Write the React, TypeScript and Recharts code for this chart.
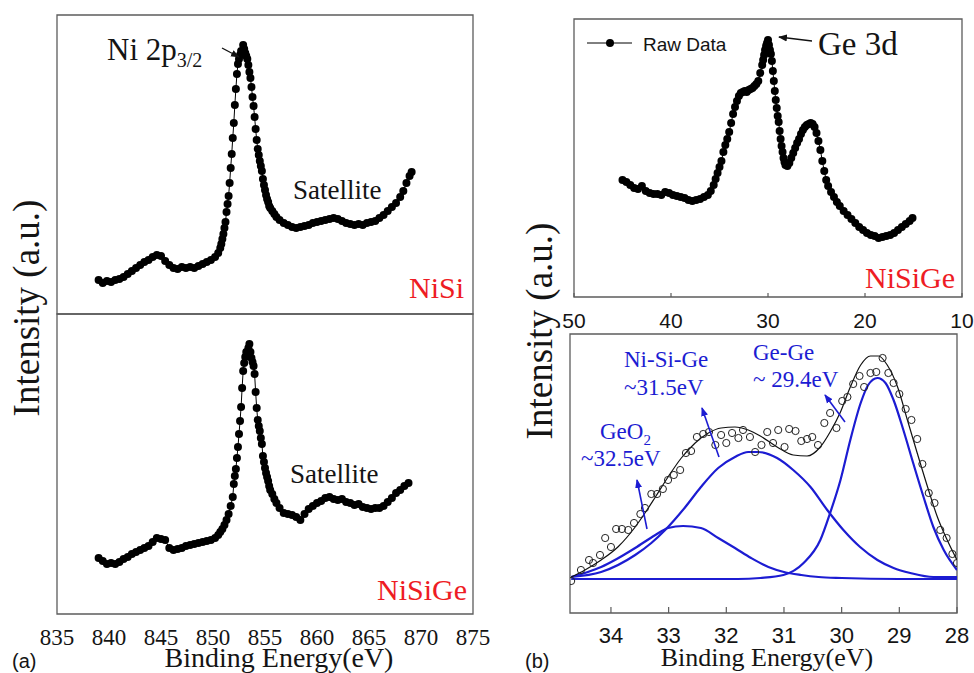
import React from 'react';
import { LineChart, ComposedChart, Line, XAxis, YAxis, ReferenceArea } from 'recharts';

const SERIF = '"Liberation Serif", "Times New Roman", serif';
const SANS = '"Liberation Sans", Arial, sans-serif';
const FRAME = '#5c5c5c';
const RED = '#ee1c24';
const BLUE = '#1c1cd2';
const INK = '#141414';

// (a) Ni 2p3/2 region
const niTicks = [835, 840, 845, 850, 855, 860, 865, 870, 875];

const niSiEnergy = [
  839.0, 839.4, 839.8, 840.2, 840.6, 841.0, 841.4, 841.8, 842.2, 842.6, 843.0, 843.4, 843.8, 844.2, 844.6,
  845.0, 845.4, 845.8, 846.2, 846.6, 847.0, 847.4, 847.8, 848.2, 848.6, 849.0, 849.4, 849.8, 850.2, 850.5,
  850.7, 850.8, 850.9, 851.0, 851.1, 851.2, 851.3, 851.4, 851.5, 851.6, 851.7, 851.8, 851.9, 852.0, 852.1,
  852.2, 852.3, 852.4, 852.5, 852.6, 852.7, 852.8, 852.9, 853.0, 853.1, 853.2, 853.3, 853.4, 853.5, 853.6,
  853.7, 853.8, 853.9, 854.0, 854.1, 854.2, 854.3, 854.4, 854.5, 854.6, 854.7, 854.8, 854.9, 855.0, 855.1,
  855.2, 855.3, 855.4, 855.5, 855.7, 855.9, 856.1, 856.4, 856.8, 857.2, 857.6, 858.0, 858.4, 858.8, 859.2,
  859.6, 860.0, 860.4, 860.8, 861.2, 861.6, 862.0, 862.4, 862.8, 863.2, 863.6, 864.0, 864.4, 864.8, 865.2,
  865.6, 866.0, 866.4, 866.8, 867.2, 867.6, 868.0, 868.3, 868.6, 868.9, 869.1,
];
const niSiCounts = [
  34, 31, 33, 32, 34, 35, 37, 40, 43, 46, 49, 52, 54, 57, 59,
  58, 53, 49, 46, 45, 47, 46, 47, 46, 48, 50, 52, 54, 57, 61,
  66, 70, 75, 80, 86, 92, 102, 110, 118, 131, 146, 160, 176, 191, 209,
  225, 240, 250, 255, 259, 263, 262, 269, 265, 261, 258, 255, 249, 242, 236,
  227, 217, 208, 197, 185, 174, 165, 159, 153, 148, 143, 135, 129, 124, 119,
  115, 112, 108, 106, 103, 100, 97, 94, 91, 89, 87, 86, 87, 88, 89,
  91, 92, 93, 94, 95, 96, 95, 93, 91, 90, 89, 90, 89, 91, 92,
  93, 96, 99, 103, 107, 111, 117, 123, 131, 138, 142,
];

const niSiGeEnergy = [
  839.0, 839.4, 839.8, 840.2, 840.6, 841.0, 841.4, 841.8, 842.2, 842.6, 843.0, 843.4, 843.8, 844.2, 844.6,
  845.0, 845.4, 845.8, 846.2, 846.6, 847.0, 847.4, 847.8, 848.2, 848.6, 849.0, 849.4, 849.8, 850.2, 850.5,
  850.7, 850.9, 851.1, 851.3, 851.5, 851.7, 851.9, 852.0, 852.1, 852.2, 852.3, 852.4, 852.5, 852.6, 852.7,
  852.8, 852.9, 853.0, 853.1, 853.2, 853.3, 853.4, 853.5, 853.6, 853.7, 853.8, 853.9, 854.0, 854.1, 854.2,
  854.3, 854.4, 854.5, 854.6, 854.7, 854.8, 854.9, 855.0, 855.1, 855.2, 855.3, 855.4, 855.5, 855.7, 855.9,
  856.1, 856.4, 856.8, 857.2, 857.6, 858.0, 858.4, 858.8, 859.2, 859.6, 860.0, 860.4, 860.8, 861.2, 861.6,
  862.0, 862.4, 862.8, 863.2, 863.6, 864.0, 864.4, 864.8, 865.2, 865.6, 866.0, 866.4, 866.8, 867.2, 867.6,
  868.0, 868.4, 868.8,
];
const niSiGeCounts = [
  56, 53, 50, 51, 50, 52, 55, 57, 60, 62, 64, 66, 68, 72, 76,
  75, 74, 66, 64, 65, 66, 68, 69, 70, 71, 72, 73, 74, 76, 79,
  82, 85, 89, 94, 100, 108, 117, 130, 138, 145, 156, 167, 180, 193, 207,
  226, 243, 251, 257, 262, 258, 266, 270, 262, 256, 252, 248, 240, 222, 206,
  194, 188, 183, 176, 170, 158, 152, 146, 141, 137, 133, 128, 124, 120, 115,
  111, 106, 101, 100, 99, 97, 94, 100, 105, 108, 111, 113, 116, 117, 115,
  114, 115, 112, 111, 109, 110, 107, 106, 105, 106, 106, 108, 112, 116, 121,
  124, 128, 131,
];

// (b) Ge 3d survey
const geTicks = [10, 20, 30, 40, 50];

const geRawEnergy = [
  45.0, 44.6, 44.2, 43.8, 43.4, 43.0, 42.6, 42.2, 41.8, 41.4, 41.0, 40.6, 40.2, 39.8, 39.4,
  39.0, 38.6, 38.2, 37.8, 37.4, 37.0, 36.6, 36.2, 35.9, 35.6, 35.4, 35.2, 35.0, 34.8, 34.6,
  34.4, 34.2, 34.0, 33.8, 33.6, 33.4, 33.2, 33.0, 32.8, 32.6, 32.4, 32.2, 32.0, 31.8, 31.6,
  31.4, 31.2, 31.0, 30.8, 30.6, 30.5, 30.4, 30.3, 30.2, 30.1, 30.0, 29.9, 29.8, 29.7, 29.6,
  29.5, 29.4, 29.3, 29.2, 29.1, 29.0, 28.9, 28.8, 28.7, 28.6, 28.5, 28.4, 28.3, 28.2, 28.0,
  27.8, 27.6, 27.4, 27.2, 27.0, 26.8, 26.6, 26.4, 26.2, 26.0, 25.8, 25.6, 25.4, 25.2, 25.0,
  24.8, 24.6, 24.4, 24.2, 24.0, 23.8, 23.5, 23.2, 22.9, 22.6, 22.2, 21.8, 21.4, 21.0, 20.6,
  20.2, 19.8, 19.4, 19.0, 18.6, 18.2, 17.8, 17.4, 17.0, 16.6, 16.2, 15.8, 15.4, 15.1,
];
const geRawCounts = [
  117, 115, 112, 109, 108, 111, 106, 104, 103, 103, 102, 105, 104, 102, 101,
  100, 99, 97, 96, 97, 98, 100, 102, 106, 112, 118, 124, 130, 136, 145,
  152, 158, 165, 174, 183, 190, 196, 201, 204, 205, 206, 205, 207, 208, 209,
  211, 213, 216, 224, 232, 237, 242, 247, 251, 254, 257, 252, 247, 243, 236,
  226, 216, 206, 197, 189, 181, 175, 166, 158, 151, 145, 139, 135, 132, 131,
  134, 139, 144, 149, 154, 158, 163, 167, 170, 172, 173, 174, 173, 170, 164,
  156, 147, 136, 126, 117, 111, 105, 100, 95, 91, 86, 82, 78, 74, 70,
  67, 64, 62, 61, 59, 60, 61, 62, 64, 67, 70, 73, 76, 79,
];

// (b) Ge 3d peak fit
const fitTicks = [28, 29, 30, 31, 32, 33, 34];

const fitRawEnergy = [
  34.69, 34.52, 34.38, 34.31, 34.19, 34.10, 34.00, 33.91, 33.81, 33.70, 33.60, 33.49, 33.41, 33.30, 33.20,
  33.10, 33.01, 32.91, 32.80, 32.70, 32.61, 32.51, 32.40, 32.30, 32.19, 32.09, 32.00, 31.90, 31.79, 31.71,
  31.59, 31.50, 31.39, 31.29, 31.19, 31.10, 30.99, 30.91, 30.80, 30.70, 30.60, 30.51, 30.41, 30.30, 30.20,
  30.09, 29.99, 29.90, 29.80, 29.69, 29.61, 29.50, 29.40, 29.29, 29.19, 29.10, 29.00, 28.89, 28.79, 28.69,
  28.60, 28.49, 28.39, 28.29, 28.18, 28.08, 28.00,
];
const fitRawCounts = [
  32, 43, 53, 50, 58, 75, 66, 84, 84, 83, 90, 99, 105, 119, 119,
  124, 133, 138, 143, 160, 162, 176, 179, 181, 168, 178, 170, 180, 175, 183,
  176, 161, 168, 181, 170, 183, 166, 184, 182, 172, 174, 176, 168, 190, 200,
  185, 212, 216, 229, 237, 226, 240, 241, 255, 240, 230, 219, 204, 193, 174,
  149, 120, 110, 83, 75, 59, 50,
];

const fitSumEnergy = [
  34.69, 34.45, 34.17, 33.88, 33.58, 33.41, 33.23, 33.01, 32.78, 32.54, 32.31, 32.09, 31.85, 31.62, 31.41,
  31.12, 30.84, 30.60, 30.37, 30.20, 30.02, 29.85, 29.67, 29.50, 29.36, 29.21, 29.03, 28.86, 28.69, 28.51,
  28.34, 28.17, 28.00,
];
const fitSumCounts = [
  36, 43, 53, 66, 86, 100, 116, 136, 155, 170, 180, 185, 186, 183, 177,
  166, 158, 157, 166, 181, 201, 226, 248, 257, 257, 248, 226, 193, 160, 126,
  96, 73, 53,
];

const geO2Energy = [
  34.69, 34.4, 34.17, 33.9, 33.58, 33.23, 33.01, 32.75, 32.44, 32.14, 31.85, 31.57, 31.27, 31.0, 30.7,
  30.4, 30.0, 29.0, 28.0,
];
const geO2Counts = [36, 41, 46, 54, 65, 78, 85, 87, 85, 75, 65, 55, 46, 41, 38, 36, 35, 34, 34];

const niSiGeFitEnergy = [
  34.69, 34.17, 33.58, 33.30, 33.06, 32.71, 32.44, 32.14, 31.85, 31.62, 31.45, 31.12, 30.84, 30.54, 30.25,
  29.97, 29.68, 29.38, 29.10, 28.81, 28.41, 28.00,
];
const niSiGeFitCounts = [
  36, 41, 58, 70, 83, 106, 126, 145, 156, 161, 161, 155, 143, 126, 103,
  83, 66, 53, 45, 40, 36, 36,
];

const geGeEnergy = [
  34.69, 31.8, 31.41, 31.01, 30.66, 30.37, 30.20, 30.02, 29.85, 29.67, 29.54, 29.38, 29.24, 29.10, 28.93,
  28.76, 28.58, 28.41, 28.23, 28.00,
];
const geGeCounts = [
  34, 34, 35, 38, 50, 73, 100, 133, 173, 210, 228, 235, 230, 213, 183,
  150, 116, 86, 63, 43,
];

const zip = (xs: number[], ys: number[]) => xs.map((x, i) => ({ x, y: ys[i] }));

const niSiData = zip(niSiEnergy, niSiCounts);
const niSiGeData = zip(niSiGeEnergy, niSiGeCounts);
const geRawData = zip(geRawEnergy, geRawCounts);
const fitRawData = zip(fitRawEnergy, fitRawCounts);
const fitSumData = zip(fitSumEnergy, fitSumCounts);
const geO2Data = zip(geO2Energy, geO2Counts);
const niSiGeFitData = zip(niSiGeFitEnergy, niSiGeFitCounts);
const geGeData = zip(geGeEnergy, geGeCounts);

const filledDot = { r: 4, fill: '#000', stroke: 'none' };
const openDot = { r: 3.6, fill: 'none', stroke: '#222', strokeWidth: 1 };

const abs = (left: number, top: number): React.CSSProperties => ({ position: 'absolute', left, top });

export default function App() {
  return (
    <div style={{ position: 'absolute', left: 0, top: 0, width: 974, height: 673, background: '#fff', overflow: 'hidden' }}>
      {/* (a) top: NiSi */}
      <div style={abs(52, 10)}>
        <LineChart width={426} height={309} margin={{ top: 5, right: 5, bottom: 5, left: 5 }}>
          <XAxis
            type="number"
            dataKey="x"
            domain={[835, 875]}
            ticks={niTicks}
            interval={0}
            allowDataOverflow
            axisLine={false}
            tick={false}
            tickSize={-5}
            tickLine={{ stroke: FRAME, strokeWidth: 1.2 }}
            height={0}
          />
          <YAxis type="number" domain={[0, 299]} hide />
          <ReferenceArea x1={835} x2={875} y1={0} y2={299} fill="none" stroke={FRAME} strokeWidth={1.3} />
          <Line data={niSiData} dataKey="y" stroke="#000" strokeWidth={1} dot={filledDot} activeDot={false} isAnimationActive={false} />
        </LineChart>
      </div>

      {/* (a) bottom: NiSiGe */}
      <div style={abs(32, 309)}>
        <LineChart width={466} height={350} margin={{ top: 5, right: 25, bottom: 0, left: 25 }}>
          <XAxis
            type="number"
            dataKey="x"
            domain={[835, 875]}
            ticks={niTicks}
            interval={0}
            allowDataOverflow
            axisLine={false}
            tickLine={false}
            tickSize={6}
            tickMargin={9}
            tick={{ fontFamily: SERIF, fontSize: 23, fill: INK }}
            height={45}
          />
          <YAxis type="number" domain={[0, 300]} hide />
          <ReferenceArea x1={835} x2={875} y1={0} y2={300} fill="none" stroke={FRAME} strokeWidth={1.3} />
          <Line data={niSiGeData} dataKey="y" stroke="#000" strokeWidth={1} dot={filledDot} activeDot={false} isAnimationActive={false} />
        </LineChart>
      </div>

      {/* (b) top: Ge 3d survey */}
      <div style={abs(559, 14)}>
        <LineChart width={418} height={323} margin={{ top: 5, right: 15, bottom: 0, left: 15 }}>
          <XAxis
            type="number"
            dataKey="x"
            domain={[10, 50]}
            reversed
            ticks={geTicks}
            interval={0}
            allowDataOverflow
            axisLine={false}
            tickSize={-4}
            tickMargin={20}
            tickLine={{ stroke: FRAME, strokeWidth: 1.2 }}
            tick={{ fontFamily: SANS, fontSize: 21, fill: INK }}
            height={40}
          />
          <YAxis type="number" domain={[0, 278]} hide />
          <ReferenceArea x1={10} x2={50} y1={0} y2={278} fill="none" stroke={FRAME} strokeWidth={1.3} />
          <Line data={geRawData} dataKey="y" stroke="#000" strokeWidth={1} dot={filledDot} activeDot={false} isAnimationActive={false} />
        </LineChart>
      </div>

      {/* (b) bottom: peak fit */}
      <div style={abs(565, 329)}>
        <ComposedChart width={404} height={324} margin={{ top: 5, right: 12, bottom: 0, left: 5 }}>
          <XAxis
            type="number"
            dataKey="x"
            domain={[28, 34.71]}
            reversed
            ticks={fitTicks}
            interval={0}
            allowDataOverflow
            axisLine={false}
            tickSize={-6}
            tickMargin={20}
            tickLine={{ stroke: FRAME, strokeWidth: 1.2 }}
            tick={{ fontFamily: SANS, fontSize: 22, fill: INK }}
            height={40}
          />
          <YAxis type="number" domain={[0, 279]} hide />
          <ReferenceArea x1={28} x2={34.71} y1={0} y2={279} fill="none" stroke={FRAME} strokeWidth={1.3} />
          <Line data={geGeData} dataKey="y" type="monotone" stroke={BLUE} strokeWidth={2.2} dot={false} activeDot={false} isAnimationActive={false} />
          <Line data={geO2Data} dataKey="y" type="monotone" stroke={BLUE} strokeWidth={2.2} dot={false} activeDot={false} isAnimationActive={false} />
          <Line data={niSiGeFitData} dataKey="y" type="monotone" stroke={BLUE} strokeWidth={2.2} dot={false} activeDot={false} isAnimationActive={false} />
          <Line data={fitSumData} dataKey="y" type="monotone" stroke="#111" strokeWidth={1.2} dot={false} activeDot={false} isAnimationActive={false} />
          <Line data={fitRawData} dataKey="y" stroke="none" dot={openDot} activeDot={false} isAnimationActive={false} />
        </ComposedChart>
      </div>

      {/* labels and annotations */}
      <svg width={974} height={673} style={{ position: 'absolute', left: 0, top: 0, pointerEvents: 'none' }}>
        <defs>
          <marker id="headK" markerWidth="9" markerHeight="8" refX="8" refY="4" orient="auto" markerUnits="userSpaceOnUse">
            <path d="M0,0.5 L9,4 L0,7.5 z" fill="#111" />
          </marker>
          <marker id="headB" markerWidth="9" markerHeight="8" refX="8" refY="4" orient="auto" markerUnits="userSpaceOnUse">
            <path d="M0,0.5 L9,4 L0,7.5 z" fill={BLUE} />
          </marker>
        </defs>

        {/* panel (a) */}
        <text x={107} y={60} fontFamily={SERIF} fontSize={31} fill={INK}>
          Ni 2p<tspan fontSize={20} dy={7}>3/2</tspan>
        </text>
        <line x1={222} y1={48} x2={239} y2={57} stroke="#111" strokeWidth={1.4} markerEnd="url(#headK)" />
        <text x={293} y={199} fontFamily={SERIF} fontSize={27} fill={INK}>Satellite</text>
        <text x={290} y={483} fontFamily={SERIF} fontSize={27} fill={INK}>Satellite</text>
        <text x={464} y={298} textAnchor="end" fontFamily={SERIF} fontSize={30} fill={RED}>NiSi</text>
        <text x={467} y={600} textAnchor="end" fontFamily={SERIF} fontSize={30} fill={RED}>NiSiGe</text>
        <text transform="translate(39,308) rotate(-90)" textAnchor="middle" fontFamily={SERIF} fontSize={37} fill={INK}>
          Intensity (a.u.)
        </text>
        <text x={279} y={667} textAnchor="middle" fontFamily={SERIF} fontSize={28} fill={INK}>Binding Energy(eV)</text>
        <text x={12} y={668} fontFamily={SANS} fontSize={20} fill={INK}>(a)</text>

        {/* panel (b) top */}
        <line x1={587} y1={43} x2={632} y2={43} stroke="#000" strokeWidth={1} />
        <circle cx={610} cy={43} r={4} fill="#000" />
        <text x={643} y={51} fontFamily={SANS} fontSize={19} fill={INK}>Raw Data</text>
        <line x1={812} y1={41} x2={779} y2={37} stroke="#111" strokeWidth={1.4} markerEnd="url(#headK)" />
        <text x={818} y={55} fontFamily={SERIF} fontSize={33} fill={INK}>Ge 3d</text>
        <text x={955} y={288} textAnchor="end" fontFamily={SERIF} fontSize={30} fill={RED}>NiSiGe</text>
        <text transform="translate(552,331) rotate(-90)" textAnchor="middle" fontFamily={SERIF} fontSize={37} fill={INK}>
          Intensity (a.u.)
        </text>

        {/* panel (b) bottom */}
        <text x={624} y={367} fontFamily={SERIF} fontSize={23} fill={BLUE}>Ni-Si-Ge</text>
        <text x={624} y={395} fontFamily={SERIF} fontSize={23} fill={BLUE}>~31.5eV</text>
        <text x={753} y={360} fontFamily={SERIF} fontSize={23} fill={BLUE}>Ge-Ge</text>
        <text x={753} y={387} fontFamily={SERIF} fontSize={23} fill={BLUE}>~ 29.4eV</text>
        <text x={600} y={439} fontFamily={SERIF} fontSize={23} fill={BLUE}>
          GeO<tspan fontSize={15} dy={6}>2</tspan>
        </text>
        <text x={581} y={466} fontFamily={SERIF} fontSize={23} fill={BLUE}>~32.5eV</text>
        <line x1={647} y1={529} x2={637} y2={480} stroke={BLUE} strokeWidth={1.6} markerEnd="url(#headB)" />
        <line x1={719} y1={457} x2={702} y2={408} stroke={BLUE} strokeWidth={1.6} markerEnd="url(#headB)" />
        <line x1={845} y1={422} x2={825} y2={395} stroke={BLUE} strokeWidth={1.6} markerEnd="url(#headB)" />
        <text x={767} y={666} textAnchor="middle" fontFamily={SERIF} fontSize={26} fill={INK}>Binding Energy(eV)</text>
        <text x={525} y={668} fontFamily={SANS} fontSize={20} fill={INK}>(b)</text>
      </svg>
    </div>
  );
}
